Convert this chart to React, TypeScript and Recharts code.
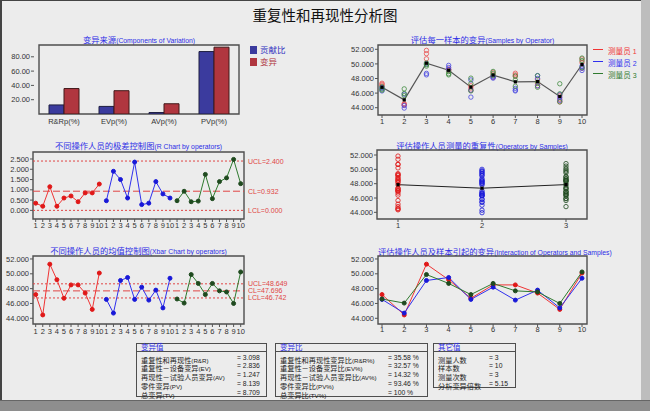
import React from "react";
import {
  BarChart,
  Bar,
  ComposedChart,
  Line,
  Scatter,
  XAxis,
  YAxis,
  ReferenceLine,
  ReferenceArea,
} from "recharts";

// ---- data ----
const samples = [1, 2, 3, 4, 5, 6, 7, 8, 9, 10];
const operatorIds = [1, 2, 3];
const operatorNames = ["测量员 1", "测量员 2", "测量员 3"];

const sourceLabels = ["R&Rp(%)", "EVp(%)", "AVp(%)", "PVp(%)"];
const contributionPct = [12.66, 10.61, 2.05, 87.34];
const variationPct = [35.58, 32.57, 14.32, 93.46];

// three trials per sample, per operator
const trialsOp1 = [
  [47.0, 47.2, 47.35], [44.35, 44.45, 44.55], [50.7, 51.4, 51.85], [49.1, 49.2, 49.3], [46.4, 46.7, 47.0],
  [48.15, 48.5, 48.85], [48.3, 48.5, 48.72], [47.0, 47.35, 47.85], [44.8, 45.15, 45.65], [49.4, 50.2, 50.68],
];
const trialsOp2 = [
  [46.3, 46.6, 46.77], [43.95, 44.3, 45.85], [48.5, 48.7, 50.0], [49.2, 49.5, 49.8], [45.45, 46.4, 47.8],
  [48.05, 48.2, 48.33], [46.3, 46.4, 46.65], [47.0, 48.0, 48.4], [45.0, 45.4, 45.8], [49.1, 49.4, 49.7],
];
const trialsOp3 = [
  [46.4, 46.55, 46.87], [45.65, 45.95, 46.58], [49.7, 49.9, 50.12], [48.5, 48.65, 48.95], [46.3, 47.3, 48.05],
  [48.4, 48.7, 48.97], [46.95, 47.8, 48.35], [46.8, 47.5, 48.38], [44.8, 45.9, 47.28], [49.5, 50.45, 50.8],
];

const sampleMeans = [46.8, 45.07, 50.1, 49.13, 46.82, 48.47, 47.55, 47.58, 45.53, 49.92];
const operatorMeans = [47.86, 47.37, 47.87];

const xbarOp1 = [47.2, 44.45, 51.3, 49.2, 46.7, 48.5, 48.5, 47.4, 45.2, 50.1];
const xbarOp2 = [46.55, 44.7, 49.1, 49.5, 46.55, 48.2, 46.45, 47.8, 45.4, 49.4];
const xbarOp3 = [46.6, 46.05, 49.9, 48.7, 47.2, 48.7, 47.7, 47.55, 46.0, 50.25];

const rangeOp1 = [0.35, 0.2, 1.15, 0.2, 0.6, 0.7, 0.42, 0.85, 0.85, 1.28];
const rangeOp2 = [0.47, 1.9, 1.5, 0.6, 2.35, 0.28, 0.35, 1.4, 0.8, 0.6];
const rangeOp3 = [0.47, 0.93, 0.42, 0.45, 1.75, 0.57, 1.4, 1.58, 2.48, 1.3];

const rLimits = { ucl: 2.4, cl: 0.932, lcl: 0 };
const xbarLimits = { ucl: 48.649, cl: 47.696, lcl: 46.742 };

const varianceLabels = ["重复性和再现性(R&R)", "重复性－设备变异(EV)", "再现性－试验人员变异(AV)", "零件变异(PV)", "总变异(TV)"];
const varianceValues = ["3.098", "2.836", "1.247", "8.139", "8.709"];
const ratioLabels = ["重复性和再现性变异比(R&R%)", "重复性－设备变异比(EV%)", "再现性－试验人员变异比(AV%)", "零件变异比(PV%)", "总变异比(TV%)"];
const ratioValues = ["35.58 %", "32.57 %", "14.32 %", "93.46 %", "100 %"];
const otherLabels = ["测量人数", "样本数", "测量次数", "分析变异倍数"];
const otherValues = ["3", "10", "3", "5.15"];

// ---- styles ----
const lineColors = ["#f03434", "#3030ee", "#2f7a2f"];
const dotColors = ["#e01818", "#1818d8", "#1f4a1f"];
const scatterColors = ["#e85050", "#4848e0", "#3f8a3f"];
const limitColor = "#e04545";
const frameColor = "#4e4e4e";
const tick = { fontSize: 7.5, fill: "#333", fontFamily: "'Liberation Sans', Arial, sans-serif" };
const sampleTicks = [44, 46, 48, 50, 52];

const allTrials = [trialsOp1, trialsOp2, trialsOp3];
const xbars = [xbarOp1, xbarOp2, xbarOp3];
const ranges = [rangeOp1, rangeOp2, rangeOp3];

const barRows = sourceLabels.map((name, i) => ({
  name,
  contribution: contributionPct[i],
  variation: variationPct[i],
}));

const bySample = allTrials.map((trials) =>
  trials.flatMap((row, i) => row.map((y) => ({ x: samples[i], y })))
);
const meanBySample = samples.map((x, i) => ({ x, y: sampleMeans[i] }));
const byOperator = allTrials.map((trials, k) =>
  trials.flat().map((y) => ({ x: operatorIds[k], y }))
);
const meanByOperator = operatorIds.map((x, i) => ({ x, y: operatorMeans[i] }));

function stacked(series: number[][]) {
  const rows: Record<string, number>[] = [];
  series.forEach((vals, k) =>
    vals.forEach((v, i) => rows.push({ x: k * 10 + i + 1, ["op" + (k + 1)]: v }))
  );
  return rows;
}
const rRows = stacked(ranges);
const xbarRows = stacked(xbars);
const interactionRows = samples.map((x, i) => ({
  x,
  op1: xbarOp1[i],
  op2: xbarOp2[i],
  op3: xbarOp3[i],
}));

const runTicks = Array.from({ length: 30 }, (_, i) => i + 1);

const isCjk = (s: string) => /[\u3000-\u9fff\uff00-\uffef]/.test(s);

function Mixed({ text, cjk = 8, latin = 6.6 }: { text: string; cjk?: number; latin?: number }) {
  const parts = text.match(/[\u3000-\u9fff\uff00-\uffef]+|[^\u3000-\u9fff\uff00-\uffef]+/g) || [];
  return (
    <>
      {parts.map((p, i) => (
        <span key={i} style={{ fontSize: isCjk(p) ? cjk : latin }}>
          {p}
        </span>
      ))}
    </>
  );
}

function PanelTitle({ left, width, top, text }: { left: number; width: number; top: number; text: string }) {
  return (
    <div
      style={{
        position: "absolute",
        left,
        width,
        top: top - 6,
        height: 12,
        lineHeight: "12px",
        textAlign: "center",
        color: "#2c2ce6",
        whiteSpace: "nowrap",
      }}
    >
      <Mixed text={text} cjk={8.3} latin={6.8} />
    </div>
  );
}

const openCircle = (color: string) => (p: any) =>
  <circle cx={p.cx} cy={p.cy} r={2.2} fill="none" stroke={color} strokeWidth={0.8} />;

const squareDot = (p: any) =>
  <rect key={p.index} x={p.cx - 1.6} y={p.cy - 1.6} width={3.2} height={3.2} fill="#000" />;

function limitLine(y: number, text: string, dash: string) {
  return (
    <ReferenceLine
      key={text}
      y={y}
      stroke={limitColor}
      strokeDasharray={dash}
      label={{ value: text, position: "right", fill: limitColor, fontSize: 7, offset: 4 }}
    />
  );
}

function StatBox({
  left, top, width, height, title, labels, values, eqX,
}: {
  left: number; top: number; width: number; height: number; title: string;
  labels: string[]; values: string[]; eqX: number;
}) {
  return (
    <div style={{ position: "absolute", left, top, width, height, border: `1px solid ${frameColor}`, boxSizing: "border-box" }}>
      <div style={{ height: 7, borderBottom: `1px solid ${frameColor}`, lineHeight: "8px", paddingLeft: 4, color: "#2c2ce6", fontSize: 7.5, overflow: "visible" }}>
        {title}
      </div>
      {labels.map((l, i) => (
        <div key={l} style={{ position: "absolute", left: 4, top: 8.5 + i * 8.8, height: 9, lineHeight: "9px", whiteSpace: "nowrap", color: "#222" }}>
          <Mixed text={l} cjk={7.2} latin={6.2} />
          <span style={{ position: "absolute", left: eqX - 4, fontSize: 6.8 }}>= {values[i]}</span>
        </div>
      ))}
    </div>
  );
}

const yAxisCommon = {
  tick,
  tickSize: 3,
  tickMargin: 1,
  axisLine: false,
  tickLine: { stroke: "#555" },
  interval: 0 as const,
  allowDataOverflow: true,
};

export default function App() {
  return (
    <div
      style={{
        position: "relative",
        width: 650,
        height: 411,
        overflow: "hidden",
        background: "#bdbdbd",
        fontFamily: "'Liberation Sans', 'Noto Sans CJK SC', sans-serif",
      }}
    >
      <style>{"body{margin:0}"}</style>
      <div
        style={{
          position: "absolute",
          left: 0,
          top: 0,
          width: 641,
          height: 400,
          background: "#ececec",
          borderTop: "1px solid #444",
          borderLeft: "2px solid #444",
          boxSizing: "border-box",
        }}
      />
      <div style={{ position: "absolute", left: 0, top: 400, width: 650, height: 11, background: "#8e8e8e", borderTop: "1px solid #666" }} />

      <div style={{ position: "absolute", left: 0, width: 650, top: 6, lineHeight: "18px", textAlign: "center", fontSize: 14.5, color: "#111", fontFamily: "'Noto Sans CJK SC', sans-serif" }}>
        重复性和再现性分析图
      </div>

      {/* components of variation */}
      <PanelTitle left={34} width={210} top={38} text="变异来源(Components of Variation)" />
      <div style={{ position: "absolute", left: 0, top: 40 }}>
        <BarChart width={330} height={96} data={barRows} margin={{ top: 5, right: 86, bottom: 0, left: 0 }} barGap={0}>
          <XAxis dataKey="name" interval={0} tick={tick} tickLine={false} axisLine={false} height={22} tickSize={3} tickMargin={2} padding={{ left: 5, right: 5 }} />
          <YAxis width={34} domain={[0, 96.5]} ticks={[20, 40, 60, 80]} tickFormatter={(v: number) => v.toFixed(2)} {...yAxisCommon} />
          <Bar dataKey="contribution" fill="#3b3b9e" stroke="#1e1e40" barSize={15} isAnimationActive={false} />
          <Bar dataKey="variation" fill="#b0363f" stroke="#401818" barSize={15} isAnimationActive={false} />
          <ReferenceArea y1={0} y2={96.5} fill="none" stroke={frameColor} strokeWidth={1.4} />
        </BarChart>
      </div>
      <div style={{ position: "absolute", left: 250, top: 44, fontSize: 8.5, lineHeight: "12px" }}>
        <div style={{ display: "flex", alignItems: "center", color: "#3030c0" }}>
          <span style={{ width: 7, height: 8, background: "#3b3b9e", marginRight: 3, display: "inline-block" }} />贡献比
        </div>
        <div style={{ display: "flex", alignItems: "center", color: "#b0363f" }}>
          <span style={{ width: 7, height: 8, background: "#b0363f", marginRight: 3, display: "inline-block" }} />变异
        </div>
      </div>

      {/* samples by operator */}
      <PanelTitle left={378} width={209} top={38} text="评估每一样本的变异(Samples by Operator)" />
      <div style={{ position: "absolute", left: 320, top: 40 }}>
        <ComposedChart width={330} height={90} margin={{ top: 5, right: 63, bottom: 0, left: 0 }}>
          <XAxis dataKey="x" type="number" domain={[0.82, 10.225]} allowDataOverflow ticks={samples} interval={0} tick={tick} height={15} tickSize={3} tickMargin={1} axisLine={false} tickLine={{ stroke: "#555" }} />
          <YAxis width={58} domain={[43.0, 52.59]} ticks={sampleTicks} tickFormatter={(v: number) => v.toFixed(3)} {...yAxisCommon} />
          {bySample.map((pts, k) => (
            <Scatter key={k} data={pts} dataKey="y" shape={openCircle(scatterColors[k])} isAnimationActive={false} />
          ))}
          <Line data={meanBySample} dataKey="y" stroke="#555" strokeWidth={1.2} dot={squareDot} isAnimationActive={false} />
          <ReferenceArea y1={43.0} y2={52.59} fill="none" stroke={frameColor} strokeWidth={1.4} />
        </ComposedChart>
      </div>
      <div style={{ position: "absolute", left: 593, top: 43, lineHeight: "12px" }}>
        {operatorNames.map((n, k) => (
          <div key={n} style={{ position: "relative", height: 12, paddingLeft: 15, color: lineColors[k], whiteSpace: "nowrap" }}>
            <div style={{ position: "absolute", left: 0, top: 6, width: 10, borderTop: `1px solid ${lineColors[k]}` }} />
            <Mixed text={n} cjk={7.6} latin={7} />
          </div>
        ))}
      </div>

      {/* R chart */}
      <PanelTitle left={33} width={211} top={144} text="不同操作人员的极差控制图(R Chart by operators)" />
      <div style={{ position: "absolute", left: 0, top: 147 }}>
        <ComposedChart width={330} height={86} data={rRows} margin={{ top: 5, right: 86, bottom: 0, left: 0 }}>
          <XAxis dataKey="x" type="number" domain={[0.62, 30.47]} allowDataOverflow ticks={runTicks} interval={0} tickFormatter={(v: number) => String(((v - 1) % 10) + 1)} tick={tick} height={14} tickSize={3} tickMargin={1} axisLine={false} tickLine={{ stroke: "#555" }} />
          <YAxis width={33} domain={[-0.42, 2.84]} ticks={[0, 0.5, 1, 1.5, 2, 2.5]} tickFormatter={(v: number) => v.toFixed(3)} {...yAxisCommon} />
          {limitLine(rLimits.ucl, "UCL=2.400", "2 2")}
          {limitLine(rLimits.cl, "CL=0.932", "7 3")}
          {limitLine(rLimits.lcl, "LCL=0.000", "2 2")}
          {[0, 1, 2].map((k) => (
            <Line key={k} dataKey={"op" + (k + 1)} stroke={lineColors[k]} strokeWidth={1} dot={{ r: 2, fill: dotColors[k], stroke: dotColors[k] }} isAnimationActive={false} />
          ))}
          <ReferenceArea y1={-0.42} y2={2.84} fill="none" stroke={frameColor} strokeWidth={1.4} />
        </ComposedChart>
      </div>

      {/* operators by samples */}
      <PanelTitle left={377} width={210} top={144} text="评估操作人员测量的重复性(Operators by Samples)" />
      <div style={{ position: "absolute", left: 320, top: 145 }}>
        <ComposedChart width={330} height={88} margin={{ top: 5, right: 63, bottom: 0, left: 0 }}>
          <XAxis dataKey="x" type="number" domain={[0.75, 3.25]} allowDataOverflow ticks={operatorIds} interval={0} tick={tick} height={14} tickSize={3} tickMargin={1} axisLine={false} tickLine={{ stroke: "#555" }} />
          <YAxis width={57} domain={[43.07, 52.7]} ticks={sampleTicks} tickFormatter={(v: number) => v.toFixed(3)} {...yAxisCommon} />
          {byOperator.map((pts, k) => (
            <Scatter key={k} data={pts} dataKey="y" shape={openCircle(dotColors[k])} isAnimationActive={false} />
          ))}
          <Line data={meanByOperator} dataKey="y" stroke="#222" strokeWidth={1} dot={squareDot} isAnimationActive={false} />
          <ReferenceArea y1={43.07} y2={52.7} fill="none" stroke={frameColor} strokeWidth={1.4} />
        </ComposedChart>
      </div>

      {/* Xbar chart */}
      <PanelTitle left={33} width={211} top={249} text="不同操作人员的均值控制图(Xbar Chart by operators)" />
      <div style={{ position: "absolute", left: 0, top: 251 }}>
        <ComposedChart width={330} height={87} data={xbarRows} margin={{ top: 5, right: 86, bottom: 0, left: 0 }}>
          <XAxis dataKey="x" type="number" domain={[0.62, 30.47]} allowDataOverflow ticks={runTicks} interval={0} tickFormatter={(v: number) => String(((v - 1) % 10) + 1)} tick={tick} height={14} tickSize={3} tickMargin={2} axisLine={false} tickLine={{ stroke: "#555" }} />
          <YAxis width={33} domain={[43.23, 52.4]} ticks={sampleTicks} tickFormatter={(v: number) => v.toFixed(3)} {...yAxisCommon} />
          {limitLine(xbarLimits.ucl, "UCL=48.649", "2 2")}
          {limitLine(xbarLimits.cl, "CL=47.696", "7 3")}
          {limitLine(xbarLimits.lcl, "LCL=46.742", "2 2")}
          {[0, 1, 2].map((k) => (
            <Line key={k} dataKey={"op" + (k + 1)} stroke={lineColors[k]} strokeWidth={1} dot={{ r: 2, fill: dotColors[k], stroke: dotColors[k] }} isAnimationActive={false} />
          ))}
          <ReferenceArea y1={43.23} y2={52.4} fill="none" stroke={frameColor} strokeWidth={1.4} />
        </ComposedChart>
      </div>

      {/* interaction */}
      <PanelTitle left={378} width={209} top={250} text="评估操作人员及样本引起的变异(Interaction of Operators and Samples)" />
      <div style={{ position: "absolute", left: 320, top: 251 }}>
        <ComposedChart width={330} height={87} data={interactionRows} margin={{ top: 5, right: 63, bottom: 0, left: 0 }}>
          <XAxis dataKey="x" type="number" domain={[0.82, 10.225]} allowDataOverflow ticks={samples} interval={0} tick={tick} height={14} tickSize={3} tickMargin={0} axisLine={false} tickLine={{ stroke: "#555" }} />
          <YAxis width={58} domain={[43.23, 52.4]} ticks={sampleTicks} tickFormatter={(v: number) => v.toFixed(3)} {...yAxisCommon} />
          {[0, 1, 2].map((k) => (
            <Line key={k} dataKey={"op" + (k + 1)} stroke={lineColors[k]} strokeWidth={1} dot={{ r: 2, fill: dotColors[k], stroke: dotColors[k] }} isAnimationActive={false} />
          ))}
          <ReferenceArea y1={43.23} y2={52.4} fill="none" stroke={frameColor} strokeWidth={1.4} />
        </ComposedChart>
      </div>

      {/* summary tables */}
      <StatBox left={136} top={343} width={131} height={54} title="变异值" labels={varianceLabels} values={varianceValues} eqX={100} />
      <StatBox left={275} top={343} width={153} height={54} title="变异比" labels={ratioLabels} values={ratioValues} eqX={112} />
      <StatBox left={433} top={343} width={83} height={45} title="其它值" labels={otherLabels} values={otherValues} eqX={55} />
    </div>
  );
}
